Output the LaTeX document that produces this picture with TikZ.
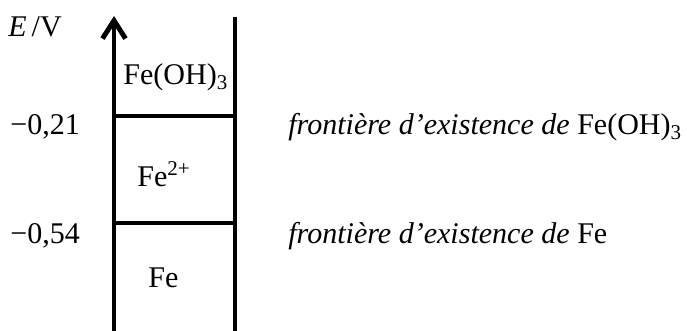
\documentclass[tikz,border=0pt]{standalone}
\usepackage{fontspec}
\setmainfont{Liberation Serif}
\usetikzlibrary{arrows.meta, positioning}

\begin{document}
\begin{tikzpicture}[
    x=0.02cm, y=-0.02cm,
    >={Straight Barb[length=3.6mm, width=4.6mm]},
    every node/.style={font=\fontsize{17.1}{20}\selectfont, inner sep=0pt},
    wall/.style={line width=2.8pt},
    species/.style={anchor=base west},
    frontier/.style={anchor=base west},
]
  \useasboundingbox (0,0) rectangle (687,331);
  % potential axis and right edge of the diagram
  \coordinate (axbot) at (114,331);
  \coordinate (axtop) at (114,16);
  \coordinate (rtbot) at (235,331);
  \coordinate (rttop) at (235,17);
  \draw[wall, ->] (axbot) -- (axtop);
  \draw[wall] (rtbot) -- (rttop);
  % frontiers
  \coordinate (ohl) at (114,116);
  \coordinate (ohr) at (235,116);
  \coordinate (fel) at (114,223);
  \coordinate (fer) at (235,223);
  \draw[wall] (ohl) -- (ohr);
  \draw[wall] (fel) -- (fer);
  % axis values
  \node[species] (ev)   at (8,37)   {\textit{E}\,/V};
  \node[species] (v021) at (10,135) {−0,21};
  \node[species] (v054) at (10,243) {−0,54};
  % domains
  \node[species] (feoh) at (123,85)  {Fe(OH)\textsubscript{3}};
  \node[species] (fe2)  at (137,187) {Fe\textsuperscript{2+}};
  \node[species] (fe)   at (148,287) {Fe};
  % comments
  \node[frontier] (froh) at (288,135) {\textit{frontière d’existence de} Fe(OH)\textsubscript{3}};
  \node[frontier] (frfe) at (288,243) {\textit{frontière d’existence de} Fe};
\end{tikzpicture}
\end{document}
